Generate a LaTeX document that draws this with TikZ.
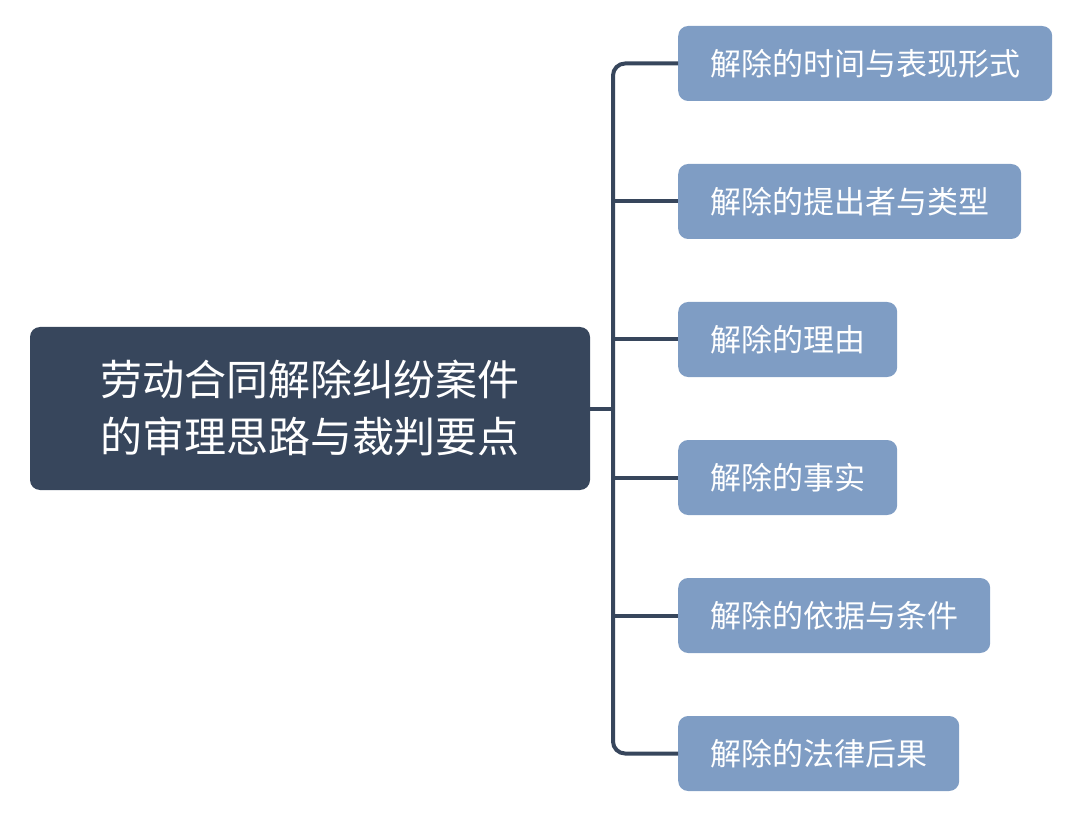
\documentclass[tikz,border=0pt]{standalone}
\usepackage{fontspec}
\setmainfont{Noto Sans CJK SC}
\definecolor{darknavy}{RGB}{55,70,92}
\definecolor{lightblue}{RGB}{127,157,196}
\begin{document}
\begin{tikzpicture}[x=1pt,y=-1pt,
  rootbox/.style={fill=darknavy, rounded corners=10pt, text=white, minimum width=560pt, minimum height=163pt, align=center, font=\fontsize{42}{57}\selectfont, inner sep=0pt},
  childbox/.style={fill=lightblue, rounded corners=10pt, text=white, minimum height=75pt, inner xsep=32pt, inner ysep=0pt, anchor=west, font=\fontsize{31}{37}\selectfont},
  conn/.style={draw=darknavy, line width=4pt, rounded corners=12pt}]
\useasboundingbox (0,0) rectangle (1080,813);
\node[rootbox] (root) at (310,408.5) {劳动合同解除纠纷案件\\的审理思路与裁判要点};
\node[childbox] (c1) at (678,63.5) {解除的时间与表现形式};
\node[childbox] (c2) at (678,201.5) {解除的提出者与类型};
\node[childbox] (c3) at (678,339.5) {解除的理由};
\node[childbox] (c4) at (678,477.5) {解除的事实};
\node[childbox] (c5) at (678,615.5) {解除的依据与条件};
\node[childbox] (c6) at (678,753.5) {解除的法律后果};
\coordinate (trunk) at (613,408.5);
\draw[conn] (c1.west) -- (c1.west -| trunk) -- (c6.west -| trunk) -- (c6.west);
\draw[conn] (root.east) -- (trunk);
\foreach \c in {c2,c3,c4,c5} \draw[conn] (\c.west -| trunk) -- (\c.west);
\end{tikzpicture}
\end{document}
